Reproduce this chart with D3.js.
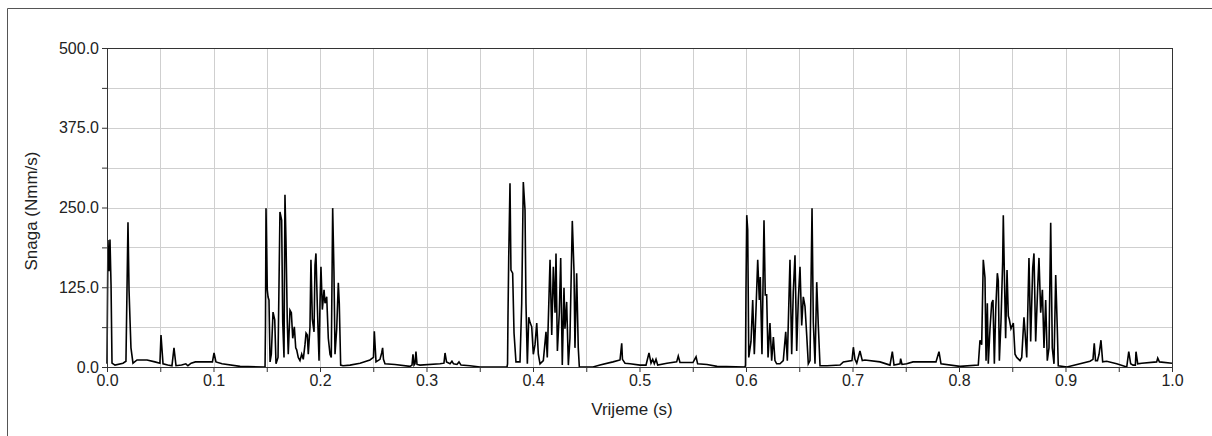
<!DOCTYPE html>
<html>
<head>
<meta charset="utf-8">
<script src="https://cdn.jsdelivr.net/npm/d3@7"></script>
<style>
  body { margin: 0; background: #fff; }
  text { font-family: "Liberation Sans", Arial, sans-serif; fill: #222; }
</style>
</head>
<body>
<script>
var svg_width  = 1212;
var svg_height = 436;

// axis setup
var xDomain = [0, 1];
var yDomain = [0, 500];
var xTickLabels = [0, 0.1, 0.2, 0.3, 0.4, 0.5, 0.6, 0.7, 0.8, 0.9, 1.0];
var yTickLabels = [0, 125, 250, 375, 500];
var xLabel = "Vrijeme (s)";
var yLabel = "Snaga (Nmm/s)";

// [vrijeme (s), snaga (Nmm/s)]
var quietStart = [
  [0.0000, 5], [0.0009, 199], [0.0019, 150], [0.0028, 200], [0.0038, 128], [0.0047, 6],
  [0.0075, 3], [0.0150, 6], [0.0178, 9], [0.0197, 227], [0.0207, 120], [0.0216, 74],
  [0.0225, 30], [0.0244, 6], [0.0282, 11], [0.0376, 11], [0.0450, 8], [0.0497, 6],
  [0.0507, 50], [0.0526, 5], [0.0570, 3], [0.0610, 2], [0.0629, 30], [0.0648, 2],
  [0.0700, 3], [0.0740, 5], [0.0760, 2], [0.0790, 6], [0.0830, 8], [0.0990, 8],
  [0.1005, 22], [0.1023, 8], [0.1080, 5], [0.1250, 1], [0.1470, 0]
];

var burst1 = [
  [0.1484, 0], [0.1488, 63], [0.1493, 249], [0.1505, 121], [0.1512, 110], [0.1521, 105],
  [0.1531, 8], [0.1543, 20], [0.1559, 86], [0.1575, 74], [0.1587, 5], [0.1606, 15],
  [0.1624, 243], [0.1640, 230], [0.1650, 70], [0.1662, 15], [0.1671, 270], [0.1681, 194],
  [0.1693, 70], [0.1702, 20], [0.1718, 89], [0.1731, 85], [0.1744, 45], [0.1759, 63],
  [0.1772, 30], [0.1781, 27], [0.1796, 15], [0.1812, 10], [0.1828, 20], [0.1843, 12],
  [0.1859, 35], [0.1869, 53], [0.1881, 50], [0.1890, 20], [0.1906, 63], [0.1915, 168],
  [0.1928, 75], [0.1944, 55], [0.1953, 160], [0.1962, 178], [0.1975, 95], [0.1991, 10],
  [0.2000, 100], [0.2009, 157], [0.2022, 90], [0.2038, 121], [0.2047, 100], [0.2063, 110],
  [0.2078, 45], [0.2094, 20], [0.2106, 15], [0.2119, 249], [0.2131, 150], [0.2141, 20],
  [0.2157, 60], [0.2172, 132], [0.2181, 100], [0.2194, 3]
];

var quiet2 = [
  [0.2216, 2], [0.2282, 3], [0.2376, 6], [0.2469, 11], [0.2502, 15], [0.2510, 56],
  [0.2526, 8], [0.2563, 12], [0.2579, 22], [0.2588, 30], [0.2596, 12], [0.2610, 5],
  [0.2704, 4], [0.2845, 1], [0.2864, 3], [0.2873, 20], [0.2883, 3], [0.2892, 5],
  [0.2901, 24], [0.2911, 4], [0.2939, 3], [0.3127, 5], [0.3164, 6], [0.3174, 22],
  [0.3188, 8], [0.3221, 5], [0.3239, 9], [0.3254, 5], [0.3286, 4], [0.3305, 8],
  [0.3324, 3], [0.3408, 2], [0.3502, 0], [0.3756, 0]
];

var burst2 = [
  [0.3761, 5], [0.3765, 78], [0.3772, 171], [0.3784, 288], [0.3793, 152], [0.3809, 147],
  [0.3822, 53], [0.3840, 8], [0.3878, 8], [0.3894, 100], [0.3909, 290], [0.3925, 246],
  [0.3934, 100], [0.3947, 5], [0.3960, 78], [0.3972, 70], [0.3988, 63], [0.4003, 20],
  [0.4019, 35], [0.4035, 69], [0.4050, 20], [0.4066, 5], [0.4097, 10], [0.4122, 55],
  [0.4134, 15], [0.4160, 168], [0.4176, 50], [0.4191, 157], [0.4207, 85], [0.4216, 178],
  [0.4229, 25], [0.4247, 85], [0.4260, 171], [0.4275, 3], [0.4291, 124], [0.4300, 60],
  [0.4316, 102], [0.4332, 3], [0.4347, 45], [0.4369, 229], [0.4385, 150], [0.4394, 30],
  [0.4410, 147], [0.4425, 30], [0.4435, 0]
];

var quiet3 = [
  [0.4563, 0], [0.4629, 3], [0.4751, 8], [0.4817, 11], [0.4833, 37], [0.4840, 12],
  [0.4864, 6], [0.4911, 5], [0.5005, 3], [0.5061, 3], [0.5089, 22], [0.5108, 6],
  [0.5124, 12], [0.5139, 5], [0.5155, 12], [0.5171, 3], [0.5258, 6], [0.5349, 8],
  [0.5364, 17], [0.5380, 7], [0.5502, 7], [0.5531, 16], [0.5546, 5], [0.5634, 4],
  [0.5728, 1], [0.5991, 0]
];

var burst3 = [
  [0.5995, 3], [0.6000, 125], [0.6007, 238], [0.6016, 215], [0.6026, 15], [0.6047, 40],
  [0.6063, 105], [0.6078, 20], [0.6094, 90], [0.6110, 168], [0.6125, 105], [0.6134, 141],
  [0.6150, 20], [0.6169, 230], [0.6181, 113], [0.6194, 113], [0.6207, 15], [0.6225, 69],
  [0.6241, 10], [0.6257, 47], [0.6272, 10], [0.6288, 5], [0.6319, 5], [0.6350, 10],
  [0.6373, 55], [0.6388, 10], [0.6413, 168], [0.6429, 20], [0.6444, 118], [0.6460, 175],
  [0.6476, 25], [0.6491, 105], [0.6507, 157], [0.6523, 65], [0.6538, 110], [0.6554, 95],
  [0.6570, 50], [0.6585, 5], [0.6601, 10], [0.6620, 249], [0.6632, 70], [0.6648, 5],
  [0.6664, 133], [0.6679, 65], [0.6695, 2]
];

var quiet4 = [
  [0.6761, 2], [0.6883, 3], [0.6914, 8], [0.6995, 10], [0.7008, 31], [0.7023, 12],
  [0.7040, 6], [0.7070, 25], [0.7092, 10], [0.7117, 11], [0.7258, 8], [0.7352, 3],
  [0.7374, 24], [0.7390, 3], [0.7446, 5], [0.7452, 13], [0.7465, 4], [0.7509, 5],
  [0.7568, 8], [0.7784, 8], [0.7812, 24], [0.7831, 5], [0.8009, 1], [0.8181, 3]
];

var burst4 = [
  [0.8197, 42], [0.8213, 35], [0.8228, 168], [0.8244, 140], [0.8254, 10], [0.8266, 100],
  [0.8275, 5], [0.8291, 60], [0.8307, 100], [0.8319, 105], [0.8332, 5], [0.8345, 90],
  [0.8360, 147], [0.8369, 135], [0.8379, 10], [0.8394, 70], [0.8410, 165], [0.8416, 238],
  [0.8425, 155], [0.8438, 45], [0.8451, 152], [0.8463, 80], [0.8472, 75], [0.8488, 60],
  [0.8510, 69], [0.8526, 20], [0.8542, 15], [0.8573, 10], [0.8589, 15], [0.8610, 78],
  [0.8620, 55], [0.8636, 15], [0.8657, 171], [0.8673, 40], [0.8692, 155], [0.8704, 178],
  [0.8720, 40], [0.8739, 125], [0.8751, 171], [0.8767, 85], [0.8783, 121], [0.8798, 30],
  [0.8814, 105], [0.8829, 10], [0.8845, 30], [0.8861, 226], [0.8876, 30], [0.8892, 5],
  [0.8908, 144], [0.8923, 60], [0.8932, 2]
];

var quietEnd = [
  [0.9014, 0], [0.9108, 4], [0.9230, 9], [0.9258, 12], [0.9270, 37], [0.9282, 10],
  [0.9300, 10], [0.9315, 20], [0.9333, 42], [0.9349, 8], [0.9387, 9], [0.9481, 5],
  [0.9575, 0], [0.9594, 24], [0.9612, 5], [0.9634, 3], [0.9656, 3], [0.9662, 24],
  [0.9678, 5], [0.9716, 6], [0.9856, 8], [0.9866, 14], [0.9882, 8], [1.0000, 6]
];

var signal = [].concat(quietStart, burst1, quiet2, burst2, quiet3, burst3, quiet4, burst4, quietEnd);

var margin = {left: 107, right: 40, top: 48, bottom: 69};
var plotW = svg_width - margin.left - margin.right;
var plotH = svg_height - margin.top - margin.bottom;

var svg = d3.select('body').append('svg')
            .attr('width', svg_width)
            .attr('height', svg_height);

// outer frame (top + left edge only visible)
svg.append("path")
   .attr("d", "M7.5," + svg_height + "V8.5H" + svg_width)
   .attr("fill", "none")
   .attr("stroke", "#555")
   .attr("stroke-width", 1);

var x = d3.scaleLinear().domain(xDomain).range([0, plotW]);
var y = d3.scaleLinear().domain(yDomain).range([plotH, 0]);

var g = svg.append("g")
           .attr("transform", "translate(" + margin.left + "," + margin.top + ")");

// grid: every 0.05 s and every 62.5 Nmm/s
var xGrid = d3.range(0, 1.0001, 0.05);
var yGrid = d3.range(0, 500.1, 62.5);

g.append("g").selectAll("line")
  .data(xGrid).enter().append("line")
  .attr("x1", d => Math.round(x(d)) + 0.5).attr("x2", d => Math.round(x(d)) + 0.5)
  .attr("y1", 0).attr("y2", plotH)
  .attr("stroke", "#cfcfcf");

g.append("g").selectAll("line")
  .data(yGrid).enter().append("line")
  .attr("x1", 0).attr("x2", plotW)
  .attr("y1", d => Math.round(y(d)) + 0.5).attr("y2", d => Math.round(y(d)) + 0.5)
  .attr("stroke", "#cfcfcf");

// the trace
var line = d3.line()
             .x(d => x(d[0]))
             .y(d => y(d[1]));

g.append("path")
  .datum(signal)
  .attr("d", line)
  .attr("fill", "none")
  .attr("stroke", "#000")
  .attr("stroke-width", 1.6)
  .attr("stroke-linejoin", "miter");

// box around plot
g.append("rect")
  .attr("x", 0.5).attr("y", 0.5)
  .attr("width", plotW).attr("height", plotH)
  .attr("fill", "none")
  .attr("stroke", "#333");

// axes
var xAxis = d3.axisBottom(x)
              .tickValues(xGrid)
              .tickSize(5)
              .tickFormat(d => xTickLabels.some(v => Math.abs(v - d) < 1e-9) ? d3.format(".1f")(d) : "");
var yAxis = d3.axisLeft(y)
              .tickValues(yGrid)
              .tickSize(5)
              .tickFormat(d => yTickLabels.indexOf(d) >= 0 ? d3.format(".1f")(d) : "");

var gx = g.append("g")
  .attr("transform", "translate(0," + plotH + ")")
  .call(xAxis);
var gy = g.append("g").call(yAxis);

[gx, gy].forEach(function(a) {
  a.select(".domain").attr("stroke", "#333");
  a.selectAll(".tick line").attr("stroke", "#333");
  a.selectAll(".tick text")
   .style("font-family", '"Liberation Sans", Arial, sans-serif')
   .style("font-size", "16px")
   .attr("fill", "#222");
});
gx.selectAll(".tick text").attr("dy", "0.9em").attr("y", 5);
gy.selectAll(".tick text").attr("x", -8);

// axis titles
svg.append("text")
   .attr("x", 632)
   .attr("y", 415)
   .attr("text-anchor", "middle")
   .style("font-size", "17px")
   .text(xLabel);

svg.append("text")
   .attr("transform", "translate(37,211) rotate(-90)")
   .attr("text-anchor", "middle")
   .style("font-size", "17px")
   .text(yLabel);
</script>
</body>
</html>
